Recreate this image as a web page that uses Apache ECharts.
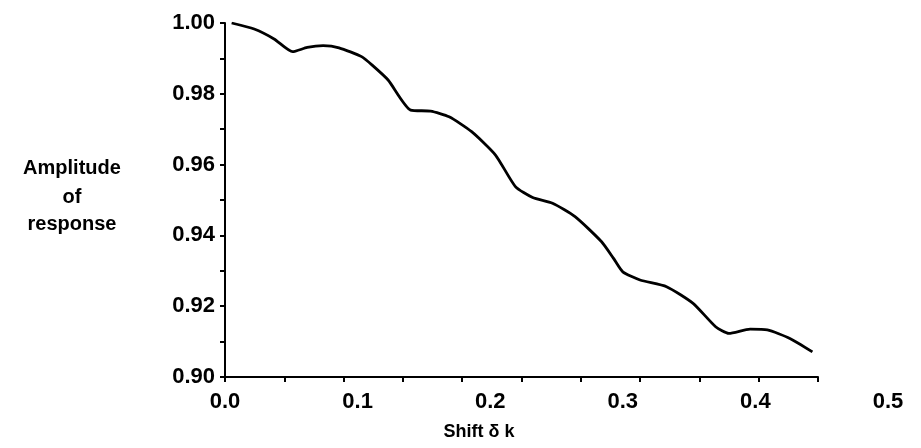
<!DOCTYPE html>
<html>
<head>
<meta charset="utf-8">
<script src="https://cdn.jsdelivr.net/npm/echarts@6/dist/echarts.min.js"></script>
<style>html,body{margin:0;padding:0;background:#fff}#c{width:921px;height:448px}</style>
</head>
<body>
<div id="c"></div>
<script>
// Data
var shiftValues = [0.005, 0.022, 0.037, 0.051, 0.062, 0.074, 0.086, 0.103, 0.111, 0.123, 0.140,
  0.155, 0.169, 0.186, 0.204, 0.219, 0.232, 0.247, 0.264, 0.284, 0.293, 0.300,
  0.313, 0.333, 0.353, 0.370, 0.380, 0.396, 0.409, 0.426, 0.443];
var amplitudeValues = [1.0000, 0.9983, 0.9955, 0.9919, 0.9931, 0.9936, 0.9930, 0.9905, 0.9881, 0.9839, 0.9754,
  0.9751, 0.9735, 0.9693, 0.9627, 0.9538, 0.9507, 0.9491, 0.9453, 0.9382, 0.9335, 0.9297,
  0.9274, 0.9255, 0.9208, 0.9142, 0.9123, 0.9135, 0.9133, 0.9109, 0.9071];
var xTickLabels = ['0.0', '0.1', '0.2', '0.3', '0.4', '0.5'];
var yTickLabels = ['0.90', '0.92', '0.94', '0.96', '0.98', '1.00'];
var xAxisTitle = 'Shift \u03B4 k';
var yAxisTitle = ['Amplitude', 'of', 'response'];

var points = shiftValues.map(function (x, i) { return [x, amplitudeValues[i]]; });
var labelFont = { color: '#000', fontWeight: 'bold', fontFamily: 'Liberation Sans, Arial, sans-serif', fontSize: 22 };
var titleFont = 'bold 20px "Liberation Sans", Arial, sans-serif';

var chart = echarts.init(document.getElementById('c'));
chart.setOption({
  animation: false,
  backgroundColor: '#fff',
  grid: [
    { left: 225, right: 33, top: 23, bottom: 71 },
    { left: 225, width: 593, top: 23, bottom: 71 }
  ],
  xAxis: [
    {
      type: 'value', gridIndex: 0, min: 0, max: 0.5, interval: 0.1,
      axisLine: { show: false }, axisTick: { show: false }, splitLine: { show: false },
      axisLabel: Object.assign({ margin: 14, formatter: function (v) {
        var i = Math.round(v * 10); return xTickLabels[i] || '';
      } }, labelFont)
    },
    {
      type: 'value', gridIndex: 1, min: 0, max: 10, interval: 1,
      axisLine: { show: true, onZero: false, lineStyle: { color: '#000', width: 2 } },
      axisTick: { show: true, length: 5, lineStyle: { color: '#000', width: 2 } },
      axisLabel: { show: false }, splitLine: { show: false }
    }
  ],
  yAxis: [
    {
      type: 'value', gridIndex: 0, min: 0.9, max: 1.0, interval: 0.01,
      axisLine: { show: true, onZero: false, lineStyle: { color: '#000', width: 2 } },
      axisTick: { show: true, length: 5, lineStyle: { color: '#000', width: 2 } },
      splitLine: { show: false },
      axisLabel: Object.assign({ margin: 10, padding: [0, 0, 10, 0], formatter: function (v) {
        var k = Math.round(v * 100) - 90;
        return (k % 2 === 0) ? (yTickLabels[k / 2] || '') : '';
      } }, labelFont)
    },
    { type: 'value', gridIndex: 1, min: 0, max: 1, show: false }
  ],
  graphic: [
    { type: 'text', x: 479, y: 432, style: { text: xAxisTitle, align: 'center', verticalAlign: 'middle',
      fill: '#000', font: 'bold 18px "Liberation Sans", Arial, sans-serif' } },
    { type: 'text', x: 72, y: 168, style: { text: yAxisTitle[0], align: 'center', verticalAlign: 'middle',
      fill: '#000', font: titleFont } },
    { type: 'text', x: 72, y: 197, style: { text: yAxisTitle[1], align: 'center', verticalAlign: 'middle',
      fill: '#000', font: titleFont } },
    { type: 'text', x: 72, y: 224, style: { text: yAxisTitle[2], align: 'center', verticalAlign: 'middle',
      fill: '#000', font: titleFont } }
  ],
  series: [{
    type: 'line', xAxisIndex: 0, yAxisIndex: 0, data: points,
    showSymbol: false, smooth: 0.2,
    lineStyle: { color: '#000', width: 2.8 }
  }]
});
</script>
</body>
</html>
